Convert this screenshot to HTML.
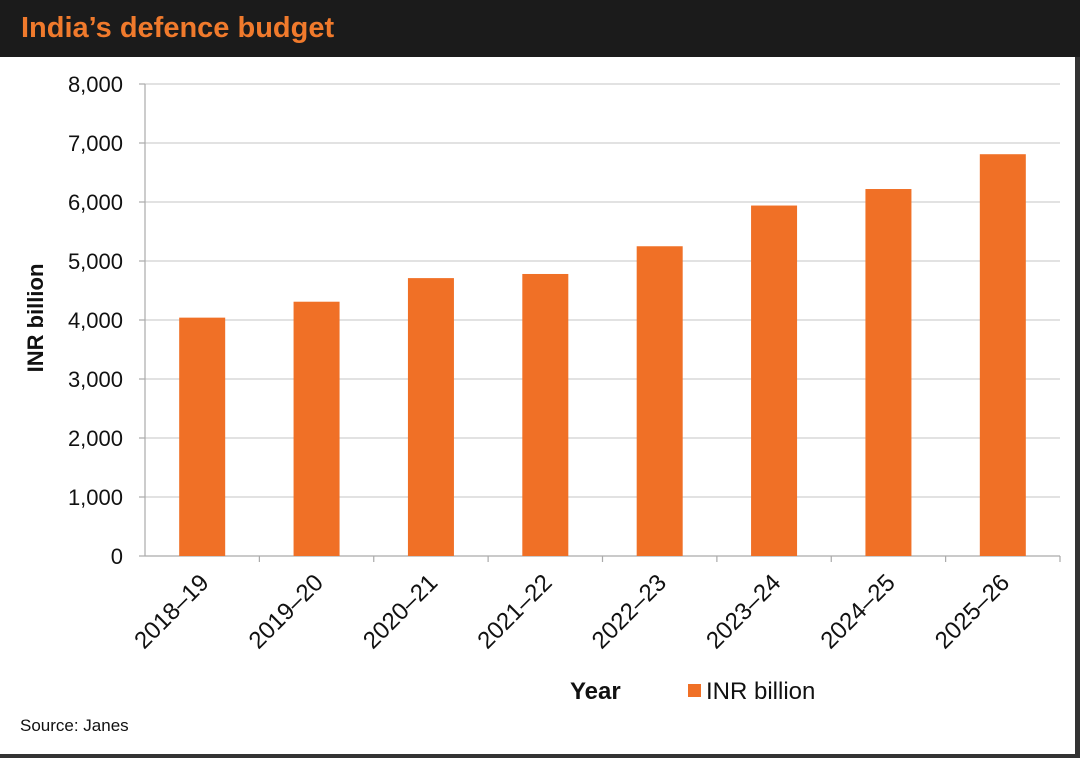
<!DOCTYPE html>
<html><head><meta charset="utf-8"><style>
body{margin:0;background:#fff;}
#wrap{position:relative;width:1080px;height:758px;overflow:hidden;background:#fff;font-family:"Liberation Sans",sans-serif;}
</style></head><body>
<div id="wrap">
<div style="position:absolute;left:0;top:0;width:1080px;height:57px;background:#1b1b1b;"></div>
<div style="position:absolute;left:21px;top:12px;font-size:29px;font-weight:bold;color:#f07a2c;">India’s defence budget</div>
<div style="position:absolute;left:1075px;top:57px;width:5px;height:701px;background:#333;"></div>
<div style="position:absolute;left:0;top:754px;width:1080px;height:4px;background:#333;"></div>
<svg id="chart" width="1080" height="758" style="position:absolute;left:0;top:0"></svg>
<div style="position:absolute;left:20px;top:716px;font-size:17px;color:#111;">Source: Janes</div>
</div>
<script>
const categories=["2018–19","2019–20","2020–21","2021–22","2022–23","2023–24","2024–25","2025–26"];
const values=[4040,4310,4710,4780,5250,5940,6220,6810];
const yTicks=[0,1000,2000,3000,4000,5000,6000,7000,8000];
const yTickLabels=["0","1,000","2,000","3,000","4,000","5,000","6,000","7,000","8,000"];
const NS="http://www.w3.org/2000/svg";
const svg=document.getElementById('chart');
const x0=145,x1=1060,yTop=84,yBot=556,yMax=8000;
const y=v=>yBot-(v/yMax)*(yBot-yTop);
const band=(x1-x0)/categories.length;
const xc=i=>x0+band*(i+0.5);
function mk(tag,attrs){const e=document.createElementNS(NS,tag);for(const k in attrs)e.setAttribute(k,attrs[k]);svg.appendChild(e);return e;}
yTicks.forEach((t,i)=>{
  const g=mk('line',{x1:x0,x2:x1,y1:y(t),y2:y(t),stroke:t===0?'#aaa':'#d0d0d0','stroke-width':1.2});
  
  
  const tk=mk('line',{x1:x0-6,x2:x0,y1:y(t),y2:y(t),stroke:'#aaa','stroke-width':1.2});
  
  
  const tx=mk('text',{x:x0-22,y:y(t)+8,'text-anchor':'end','font-size':22,fill:'#111','font-family':'Liberation Sans, sans-serif'});
  tx.textContent=yTickLabels[i];
  
  
});
const ax=mk('line',{x1:x0,x2:x0,y1:yTop,y2:yBot,stroke:'#aaa','stroke-width':1.2});


categories.forEach((c,i)=>{
  const tk=mk('line',{x1:x0+band*(i+1),x2:x0+band*(i+1),y1:yBot,y2:yBot+6,stroke:'#aaa','stroke-width':1.2});
  
  
  const w=46;
  const b=mk('rect',{x:xc(i)-w/2,y:y(values[i]),width:w,height:yBot-y(values[i]),fill:'#f07026'});
  
  
  const cx=xc(i)+8,cy=584;
  const t=mk('text',{x:cx,y:cy,'text-anchor':'end','font-size':24,fill:'#111',transform:`rotate(-45 ${cx} ${cy})`,'font-family':'Liberation Sans, sans-serif'});
  t.textContent=c;
  
  
});
const yl=mk('text',{x:43,y:318,'text-anchor':'middle','font-size':22,'font-weight':'bold',fill:'#111',transform:'rotate(-90 43 318)','font-family':'Liberation Sans, sans-serif'});
yl.textContent='INR billion';


const xl=mk('text',{x:570,y:699,'font-size':24,'font-weight':'bold',fill:'#111','font-family':'Liberation Sans, sans-serif'});
xl.textContent='Year';


const lg=mk('rect',{x:688,y:684,width:13,height:13,fill:'#f07026'});


const lt=mk('text',{x:706,y:699,'font-size':24,fill:'#111','font-family':'Liberation Sans, sans-serif'});
lt.textContent='INR billion';


</script>
</body></html>
